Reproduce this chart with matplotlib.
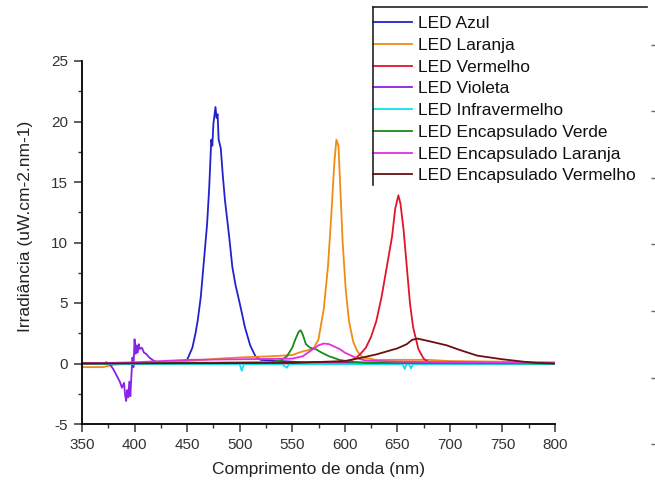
import numpy as np
import matplotlib
matplotlib.use("Agg")
import matplotlib.pyplot as plt
from matplotlib.lines import Line2D
from matplotlib.ticker import MultipleLocator

plt.rcParams['font.family'] = ['Liberation Sans', 'DejaVu Sans']
plt.rcParams['axes.unicode_minus'] = False

# ============================================================
# DATA
# ============================================================

azul_nm = [350, 400, 445, 450, 455, 458, 460, 463, 466, 469, 471, 473, 474, 475,
           477, 478, 479, 480, 482, 484, 486, 488, 490, 493, 496, 500, 505, 510,
           515, 520, 560, 800]
azul_val = [0.0, 0.05, 0.1, 0.3, 1.3, 2.5, 3.5, 5.5, 8.5, 11.5, 14.5, 18.5, 18.0, 19.8,
            21.2, 20.3, 20.6, 18.5, 17.8, 15.5, 13.5, 12.0, 10.5, 8.0, 6.5, 5.0, 3.0, 1.5,
            0.6, 0.3, 0.1, 0.0]

laranja_nm = [350, 370, 380, 400, 420, 450, 480, 500, 530, 550, 560, 570, 575, 580,
              584, 587, 590, 592, 594, 596, 598, 601, 604, 608, 612, 617, 630, 680,
              700, 800]
laranja_val = [-0.3, -0.3, -0.1, 0.0, 0.1, 0.2, 0.4, 0.5, 0.6, 0.7, 1.0, 1.2, 2.0, 4.5,
               8.0, 12.0, 16.5, 18.5, 18.0, 14.0, 10.0, 6.0, 3.5, 1.8, 1.0, 0.5, 0.3, 0.3,
               0.2, 0.1]

vermelho_nm = [350, 600, 610, 615, 620, 625, 630, 635, 640, 645, 648, 651, 653, 656,
               659, 662, 665, 670, 675, 680, 800]
vermelho_val = [0.0, 0.1, 0.4, 0.8, 1.3, 2.2, 3.5, 5.5, 8.0, 10.5, 12.8, 13.9, 13.2, 11.0,
                8.0, 5.0, 3.0, 1.2, 0.4, 0.1, 0.0]

violeta_nm = [373, 376, 380, 383, 386, 388, 390, 391, 392, 393, 394, 395, 396, 397,
              398, 399, 400, 401, 402, 403, 404, 405, 407, 409, 411, 414, 417, 420,
              425, 430, 800]
violeta_val = [0.1, 0.0, -0.5, -1.0, -1.5, -2.0, -1.6, -2.6, -3.1, -2.2, -2.8, -1.5, -2.7, -1.0,
               0.5, -0.3, 2.0, 0.8, 1.5, 0.9, 1.6, 1.2, 1.3, 0.9, 0.8, 0.5, 0.3, 0.15,
               0.05, 0.0, 0.0]

infra_nm = [350, 500, 502, 504, 540, 545, 547, 560, 655, 657, 659, 661, 663, 665, 800]
infra_val = [-0.05, -0.05, -0.6, -0.05, -0.05, -0.35, -0.05, -0.05, -0.05, -0.45, -0.05,
             -0.05, -0.4, -0.05, -0.05]

enc_verde_nm = [350, 530, 540, 545, 550, 553, 556, 558, 560, 563, 567, 572, 578, 585,
                595, 605, 620, 800]
enc_verde_val = [0.0, 0.1, 0.3, 0.6, 1.3, 2.0, 2.6, 2.75, 2.4, 1.6, 1.3, 1.2, 0.9, 0.6,
                 0.3, 0.15, 0.05, 0.0]

enc_laranja_nm = [350, 400, 450, 500, 550, 560, 565, 570, 575, 580, 585, 590, 595, 600,
                  605, 610, 615, 620, 650, 700, 800]
enc_laranja_val = [0.0, 0.1, 0.3, 0.35, 0.4, 0.6, 0.9, 1.2, 1.5, 1.65, 1.6, 1.4, 1.2, 0.9,
                   0.7, 0.5, 0.35, 0.25, 0.15, 0.1, 0.05]

enc_vermelho_nm = [350, 550, 600, 617, 630, 640, 650, 659, 664, 669, 680, 697, 710, 726,
                   750, 770, 783, 800]
enc_vermelho_val = [0.0, 0.05, 0.2, 0.5, 0.75, 1.0, 1.25, 1.6, 1.95, 2.06, 1.85, 1.5, 1.1, 0.65,
                    0.35, 0.15, 0.05, 0.0]

series = [
    ("LED Azul", azul_nm, azul_val, "#2222cc"),
    ("LED Laranja", laranja_nm, laranja_val, "#f08c12"),
    ("LED Vermelho", vermelho_nm, vermelho_val, "#e0142c"),
    ("LED Violeta", violeta_nm, violeta_val, "#8a22e6"),
    ("LED Infravermelho", infra_nm, infra_val, "#10e0ea"),
    ("LED Encapsulado Verde", enc_verde_nm, enc_verde_val, "#1a8a1a"),
    ("LED Encapsulado Laranja", enc_laranja_nm, enc_laranja_val, "#e030e0"),
    ("LED Encapsulado Vermelho", enc_vermelho_nm, enc_vermelho_val, "#6a1010"),
]

# ============================================================
# FIGURE
# ============================================================

W, H = 655, 480
fig = plt.figure(figsize=(W / 100, H / 100), dpi=100)

left, right, top, bottom = 82, 555, 61, 424
ax = fig.add_axes([left / W, 1 - bottom / H, (right - left) / W, (bottom - top) / H])

for label, nm, val, color in series:
    ax.plot(nm, val, color=color, lw=1.3, label=label)

ax.set_xlim(350, 800)
ax.set_ylim(-5, 25)

ax.xaxis.set_major_locator(MultipleLocator(50))
ax.xaxis.set_minor_locator(MultipleLocator(25))
ax.yaxis.set_major_locator(MultipleLocator(5))
ax.yaxis.set_minor_locator(MultipleLocator(2.5))

ax.spines["top"].set_visible(False)
ax.spines["right"].set_visible(False)
ax.spines["left"].set_linewidth(1.3)
ax.spines["bottom"].set_linewidth(1.3)

ax.tick_params(which="major", direction="out", length=5.5, width=1.1, labelsize=11,
               colors="#333333", labelcolor="#333333", pad=4.5)
ax.tick_params(which="minor", direction="out", length=3, width=1.0, colors="#333333")

ax.set_xlabel("Comprimento de onda (nm)", fontsize=12.5, color="#222222", labelpad=7)
ax.set_ylabel("Irradiância (uW.cm-2.nm-1)", fontsize=12.5, color="#222222")
ax.yaxis.set_label_coords(-0.104, 0.545)

# legend drawn outside the axes, with only a top and left border
leg = ax.legend(loc="upper left", bbox_to_anchor=(373 / W, 1 - 16 / H),
                bbox_transform=fig.transFigure, frameon=False, fontsize=12.5,
                borderpad=0, borderaxespad=0, handlelength=2.25,
                handletextpad=0.35, labelspacing=0.38)
for t in leg.get_texts():
    t.set_color("#111111")

fig.add_artist(Line2D([373 / W, 647 / W], [1 - 7 / H, 1 - 7 / H],
                      transform=fig.transFigure, color="#222222", lw=1.2))
fig.add_artist(Line2D([373 / W, 373 / W], [1 - 7 / H, 1 - 185 / H],
                      transform=fig.transFigure, color="#222222", lw=1.2))

# stray tick marks of a cropped right axis
right_marks = [45, 111, 178, 244, 311, 378, 444]
ax_r = fig.add_axes([651 / W, 0, 4 / W, 1])
ax_r.set_ylim(H, 0)
ax_r.set_xlim(0, 1)
ax_r.set_xticks([])
ax_r.set_yticks(right_marks)
ax_r.set_yticklabels([])
ax_r.tick_params(axis="y", direction="in", length=4, width=1.0, colors="#666666")
for s in ax_r.spines.values():
    s.set_visible(False)
ax_r.patch.set_alpha(0)

fig.savefig("out.png", dpi=100)
